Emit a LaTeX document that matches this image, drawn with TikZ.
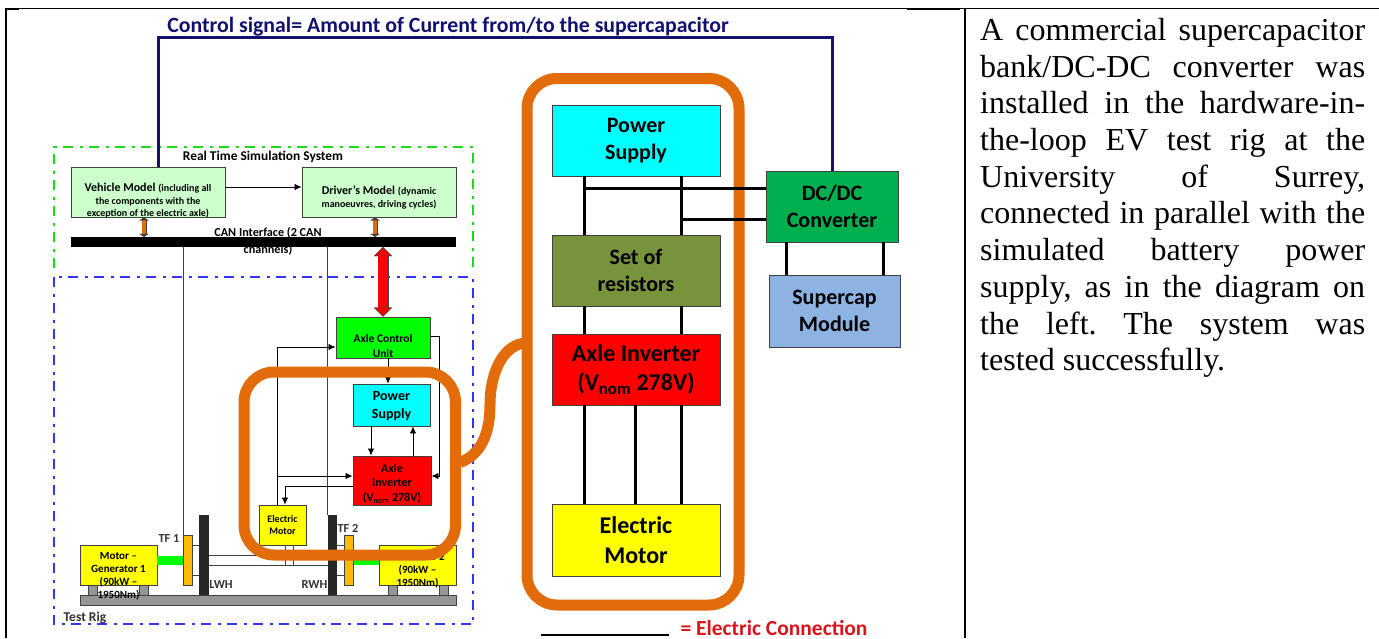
\documentclass[tikz,border=0pt]{standalone}
\usepackage{fontspec}
\setmainfont{Carlito}
\newfontfamily\timesfont{Liberation Serif}
\usetikzlibrary{arrows.meta}
\definecolor{bandorange}{HTML}{E36C0A}
\definecolor{ctrlblue}{HTML}{12126E}
\definecolor{lightmodel}{HTML}{CCFFCC}
\definecolor{boxcyan}{HTML}{00FFFF}
\definecolor{boxyellow}{HTML}{FFFF00}
\definecolor{boxgreen}{HTML}{00FF00}
\definecolor{boxred}{HTML}{FF0000}
\definecolor{resolive}{HTML}{77933C}
\definecolor{dcgreen}{HTML}{00B050}
\definecolor{capblue}{HTML}{8DB3E2}
\definecolor{tfamber}{HTML}{FDBB05}
\definecolor{wheeldark}{HTML}{262626}
\definecolor{darkedge}{HTML}{404040}
\definecolor{basegray}{HTML}{969696}
\definecolor{legendred}{HTML}{D8141C}
\newcommand{\fs}[2]{\fontsize{#1pt}{#2pt}\selectfont\bfseries}
\tikzset{
  block/.style n args={2}{draw=darkedge,line width=0.9pt,inner sep=0pt,align=center,
    minimum width=#1pt,minimum height=#2pt},
  plain/.style={inner sep=0pt,align=center},
  big/.style={font=\fs{22}{26.5}},
  bigger/.style={font=\fs{24}{29.5}},
  small/.style={font=\fs{10}{12.5}},
  rigtext/.style={font=\fs{11}{13}},
  rigmark/.style={plain,text=black!80,font=\fs{12.3}{14}},
  wire/.style={line width=3pt},
  thin wire/.style={line width=0.7pt,darkedge},
  signal/.style={line width=0.8pt,black,-{Latex[length=7pt,width=6.5pt]}},
  band/.style={draw=bandorange,line width=11pt},
  ctrl/.style={draw=ctrlblue,line width=3pt},
  orangelink/.style={draw=bandorange,line width=4pt,preaction={draw=darkedge,line width=5pt},
    {Triangle[width=9pt,length=3pt,fill=darkedge,color=darkedge]}-{Triangle[width=9pt,length=3pt,fill=darkedge,color=darkedge]}},
  redlink/.style={draw=boxred,line width=10pt,preaction={draw=darkedge,line width=11pt},
    {Triangle[width=18pt,length=9pt,fill=boxred,color=darkedge,line width=0.5pt]}-{Triangle[width=18pt,length=9pt,fill=boxred,color=darkedge,line width=0.5pt]}},
  framedash/.style={line width=2pt,dash pattern=on 10pt off 6.5pt on 3pt off 6.5pt}
}
\begin{document}
\begin{tikzpicture}[x=1pt,y=-1pt]
  \useasboundingbox (0,0) rectangle (1379,638);
  \draw[line width=1.2pt] (5,8.5) to (1379,8.5);
  \draw[line width=2pt] (5.5,8) to (5.5,638);
  \draw[line width=2pt] (964.5,8) to (964.5,638);
  \draw[line width=2pt] (5,9) to (19,9);
  \draw[line width=2pt] (907,9) to (960,9);
  \draw (980,18) node[anchor=north west,inner sep=0pt,text width=385pt,align=justify,
    font=\timesfont\fontsize{32}{36.7}\selectfont] (note){\tolerance=10000\frenchspacing
    A commercial supercapacitor\linebreak
    bank/DC-DC converter was\linebreak
    installed in the hardware-in-\linebreak
    the-loop EV test rig at the\linebreak
    University of Surrey,\linebreak
    connected in parallel with the\linebreak
    simulated battery power\linebreak
    supply, as in the diagram on\linebreak
    the left. The system was\linebreak
    tested successfully.};

  \draw[band,rounded corners=30pt] (527,78.5) rectangle (739,605);
  \draw
    (636,140.5) node[block={168}{71},fill=boxcyan,big] (ps){Power\\Supply}
    (636,270.5) node[block={168}{71},fill=resolive,big] (res){Set of\\resistors}
    (636,369.5) node[block={168}{71},fill=boxred,bigger] (inv){Axle Inverter\\(V\textsubscript{nom} 278V)}
    (636,540) node[block={168}{72},fill=boxyellow,bigger] (em){Electric\\Motor}
    (832,206.5) node[block={132}{71},fill=dcgreen,big] (dcdc){DC/DC\\Converter}
    (834.5,311) node[block={131}{72},fill=capblue,big] (scap){Supercap\\Module};
  \begin{scope}[wire]
    \draw ([xshift=-51.5pt]ps.south) to ([xshift=-51.5pt]res.north);
    \draw ([xshift=45pt]ps.south) to ([xshift=45pt]res.north);
    \draw ([xshift=-51.5pt]res.south) to ([xshift=-51.5pt]inv.north);
    \draw ([xshift=45pt]res.south) to ([xshift=45pt]inv.north);
    \draw ([xshift=-51.5pt]inv.south) to ([xshift=-51.5pt]em.north);
    \draw ([xshift=-0.5pt]inv.south) to ([xshift=-0.5pt]em.north);
    \draw ([xshift=45pt]inv.south) to ([xshift=45pt]em.north);
    \draw ([yshift=18.5pt]dcdc.west) to ([xshift=-51.5pt,yshift=18.5pt]dcdc.west -| ps.south);
    \draw ([yshift=-12.5pt]dcdc.west) to ([xshift=45pt,yshift=-12.5pt]dcdc.west -| ps.south);
    \draw ([xshift=-46pt]dcdc.south) to ([xshift=-48.5pt]scap.north);
    \draw ([xshift=51pt]dcdc.south) to ([xshift=48.5pt]scap.north);
  \end{scope}

  \draw[framedash,green!85!black!90] (54,268) -- (54,147) -- (473,147) -- (473,268);
  \draw[framedash,blue!80!white] (54,277) rectangle (473,624);
  \draw
    (263,157) node[plain,font=\fs{13.4}{15}] (rts){Real Time Simulation System}
    (148,192) node[block={154}{50},fill=lightmodel] (vm){}
    (148,201) node[plain,font=\fs{10}{12.5}] (vmlabel){{\fontsize{12}{13}\selectfont Vehicle Model }(including all\\
      the components with the\\exception of the electric axle)}
    (379,192) node[block={154}{50},fill=lightmodel] (dm){}
    (379,197) node[plain,font=\fs{10}{13}] (dmlabel){{\fontsize{12}{13}\selectfont Driver's Model }(dynamic\\
      manoeuvres, driving cycles)}
    (268,241) node[plain,font=\fs{12.2}{17}] (canlabel){CAN Interface (2 CAN\\channels)}
    (263.5,242) node[inner sep=0pt,minimum width=385pt,minimum height=10pt,fill=black] (can){}
    (383,337.5) node[block={94}{41},fill=boxgreen] (acu){}
    (383,346) node[plain,font=\fs{11.5}{14.5}] (aculabel){Axle Control\\Unit}
    (391.5,405) node[block={77}{42},fill=boxcyan] (smallps){}
    (391.5,406.5) node[plain,font=\fs{14}{18}] (smallpslabel){Power\\Supply}
    (392,480.5) node[block={78}{49},fill=boxred] (smallinv){}
    (392,483.5) node[plain,font=\fs{12}{14.5}] (smallinvlabel){Axle\\Inverter\\(V\textsubscript{nom} 278V)}
    (282.5,525) node[block={47}{40},fill=boxyellow,small] (smallem){Electric\\Motor}
    (118.5,565) node[block={77}{40},fill=boxyellow] (mg1){}
    (417.5,565) node[block={77}{40},fill=boxyellow] (mg2){}
    (268,600) node[block={376}{10},fill=basegray] (base){}
    (187.5,560) node[block={9}{50},fill=tfamber] (tf1){}
    (349,560) node[block={9}{50},fill=tfamber] (tf2){}
    (204,555) node[inner sep=0pt,minimum width=10pt,minimum height=80pt,fill=wheeldark] (lwh){}
    (332.5,555) node[inner sep=0pt,minimum width=9pt,minimum height=80pt,fill=wheeldark] (rwh){}
    (92.5,590) node[block={9}{10},fill=basegray] (foot1){}
    (144,590) node[block={9}{10},fill=basegray] (foot2){}
    (392.5,590) node[block={9}{10},fill=basegray] (foot3){}
    (444,590) node[block={9}{10},fill=basegray] (foot4){}
    (118.5,576.5) node[plain,rigtext] (mg1label){Motor –\\Generator 1\\(90kW –\\1950Nm)}
    (417.5,570.5) node[plain,rigtext] (mg2label){Generator 2\\(90kW –\\1950Nm)}
    (169,538) node[rigmark] (tf1label){TF 1}
    (348,528) node[rigmark] (tf2label){TF 2}
    (221,585) node[rigmark] (lwhlabel){LWH}
    (314.5,585) node[rigmark] (rwhlabel){RWH}
    (85,618) node[plain,text=black!80,font=\fs{13.5}{15}] (testrig){Test Rig}
    (448,27) node[plain,text=ctrlblue,font=\fs{21.8}{24}] (ctrllabel){Control signal= Amount of Current from/to the supercapacitor}
    (605,635) node[inner sep=0pt,minimum width=128pt,minimum height=2.5pt,fill=black] (legendline){}
    (774,635.5) node[plain,anchor=base,text=legendred,font=\fs{21.5}{23}] (legend){= Electric Connection};
  \draw[ctrl] (vm.north -| 158,0) -- (158,37) -- (832,37) -- (dcdc.north);
  \draw[-{Latex[length=7pt,width=6.5pt]},line width=0.8pt] (vm.east |- 0,187) to (dm.west |- 0,187);
  \draw[orangelink] (vm.south -| 144,0) to (can.north -| 144,0);
  \draw[orangelink] (dm.south -| 375,0) to (can.north -| 375,0);
  \draw[redlink] (can.south -| acu) to (acu.north);
  \begin{scope}[thin wire]
    \draw (can.south -| 183,0) to (tf1.north -| 183,0);
    \draw (can.south -| rwh.west) to (rwh.north west);
    \draw ([yshift=15pt]tf1.east) to ([yshift=15pt]tf1.east -| lwh.west);
    \draw ([yshift=-15pt]tf1.east) to ([yshift=-15pt]tf1.east -| lwh.west);
    \draw ([yshift=15pt]tf2.west) to ([yshift=15pt]tf2.west -| rwh.east);
    \draw ([yshift=-15pt]tf2.west) to ([yshift=-15pt]tf2.west -| rwh.east);
    \draw ([yshift=-10pt]rwh.west) to ([yshift=-10pt]lwh.east);
    \draw (rwh.west) to (lwh.east);
    \draw ([xshift=2.5pt]smallem.south) to ([xshift=2.5pt,yshift=-20pt]smallem.south);
    \draw ([xshift=10.5pt]smallem.south) to ([xshift=10.5pt,yshift=-20pt]smallem.south);
  \end{scope}
  \begin{scope}[signal]
    \draw (acu.south -| 388,0) to (smallps.north -| 388,0);
    \draw (smallps.south -| 371,0) to (smallinv.north -| 371,0);
    \draw (smallinv.north -| 413,0) to (smallps.south -| 413,0);
    \draw (acu.east |- 0,336) -- (439,336) -- (439,476) -- (smallinv.east |- 0,476);
    \draw (smallem.north -| 277,0) -- (277,347) -- (acu.west |- 0,347);
    \draw (277,476) -- (smallinv.west |- 0,476);
    \draw (smallinv.west |- 0,486) -- (285,486) -- (smallem.north -| 285,0);
  \end{scope}
  \draw[boxgreen,line width=9pt] (mg1.east |- 0,560.5) to (tf1.west |- 0,560.5);
  \draw[boxgreen,line width=9pt] (tf2.east |- 0,560.5) to (mg2.west |- 0,560.5);

  \draw[band,rounded corners=30pt] (244,372) rectangle (455.5,555);
  \draw[band] (460,462.5) .. controls (480,455) and (490,435) .. (490,405)
    .. controls (490,370) and (505,343) .. (527,343);
\end{tikzpicture}
\end{document}
